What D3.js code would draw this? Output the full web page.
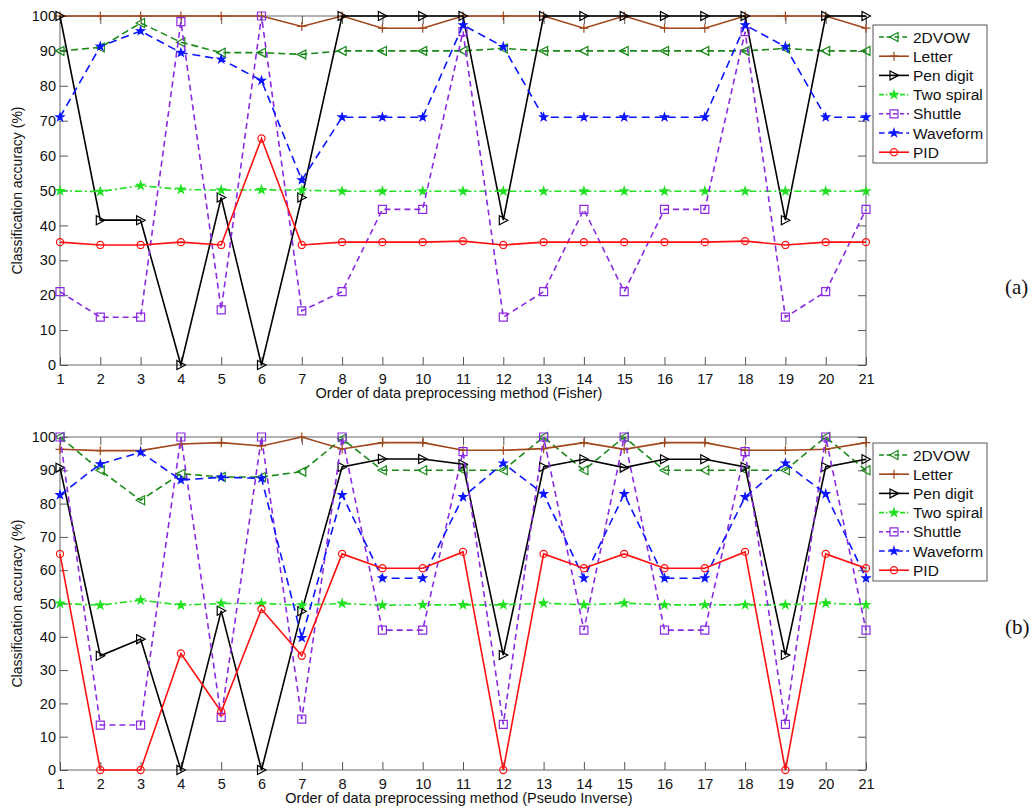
<!DOCTYPE html>
<html lang="en">
<head>
    <meta charset="UTF-8">
    <title>Classification accuracy</title>
    <script src="https://d3js.org/d3.v7.min.js"></script>
    <style>
        body { margin: 0; background: #fff; }
        svg { display: block; }
        text { font-family: "Liberation Sans", Arial, sans-serif; fill: #111; }
        .panel-tag { font-family: "Liberation Serif", "Times New Roman", serif; font-size: 21px; }
    </style>
</head>
<body>
    <svg id="chart" width="1034" height="808"></svg>
    <script>
        // x positions: order of the data preprocessing method
        const orders = d3.range(1, 22);
        const yTicks = d3.range(0, 101, 10);
        const seriesNames = ["2DVOW", "Letter", "Pen digit", "Two spiral", "Shuttle", "Waveform", "PID"];

        // (a) Fisher
        const fisher2DVOW     = [90, 91, 98, 92.5, 89.5, 89.5, 89, 90, 90, 90, 90, 90.7, 90, 90, 90, 90, 90, 90, 90.7, 90, 90];
        const fisherLetter    = [100, 100, 100, 100, 100, 100, 97, 100, 96.5, 96.5, 100, 100, 100, 96.5, 100, 96.5, 96.5, 100, 100, 100, 96.5];
        const fisherPenDigit  = [100, 41.5, 41.5, 0, 48, 0, 48, 100, 100, 100, 100, 41.5, 100, 100, 100, 100, 100, 100, 41.5, 100, 100];
        const fisherTwoSpiral = [49.9, 49.7, 51.4, 50.3, 50.1, 50.2, 50.1, 49.8, 49.8, 49.8, 49.8, 49.8, 49.8, 49.8, 49.8, 49.8, 49.8, 49.8, 49.8, 49.8, 49.8];
        const fisherShuttle   = [21, 13.7, 13.7, 98.4, 15.8, 100, 15.5, 21, 44.6, 44.6, 95.5, 13.7, 21, 44.6, 21, 44.6, 44.6, 95.5, 13.7, 21, 44.6];
        const fisherWaveform  = [71, 91.3, 95.7, 89.5, 87.6, 81.5, 53, 71, 71, 71, 97.4, 91.2, 71, 71, 71, 71, 71, 97.4, 91.2, 71, 71];
        const fisherPID       = [35.2, 34.4, 34.4, 35.2, 34.4, 64.9, 34.4, 35.2, 35.2, 35.2, 35.5, 34.4, 35.2, 35.2, 35.2, 35.2, 35.2, 35.5, 34.4, 35.2, 35.2];

        // (b) Pseudo Inverse
        const pinv2DVOW     = [100, 90, 81, 89, 88, 88, 89.6, 99.5, 90, 90, 90, 90, 100, 90, 100, 90, 90, 90, 90, 100, 90];
        const pinvLetter    = [96.3, 95.9, 95.9, 97.9, 98.3, 97.3, 100, 96.4, 98.3, 98.3, 96, 96, 96.5, 98.3, 96.3, 98.3, 98.3, 96, 96, 96.3, 98.3];
        const pinvPenDigit  = [90.8, 34.3, 39.3, 0, 47.8, 0, 47.7, 91, 93.4, 93.4, 91.8, 34.5, 91, 93.3, 90.8, 93.3, 93.3, 91, 34.5, 91, 93.3];
        const pinvTwoSpiral = [50, 49.5, 51, 49.5, 50, 50, 49.5, 50, 49.5, 49.6, 49.6, 49.6, 50.1, 49.6, 50.1, 49.6, 49.6, 49.6, 49.6, 50.1, 49.6];
        const pinvShuttle   = [100, 13.5, 13.5, 100, 15.8, 100, 15.3, 100, 42, 42, 95.6, 13.7, 100, 42, 100, 42, 42, 95.6, 13.7, 100, 42];
        const pinvWaveform  = [82.6, 91.9, 95.4, 87.1, 87.9, 87.6, 39.7, 82.6, 57.6, 57.6, 82, 92.1, 82.9, 57.6, 82.9, 57.6, 57.6, 82, 92.1, 82.9, 57.6];
        const pinvPID       = [64.9, 0, 0, 35, 17.5, 48.3, 34.3, 64.9, 60.6, 60.6, 65.5, 0, 64.9, 60.6, 64.9, 60.6, 60.6, 65.5, 0, 64.9, 60.6];

        // line + marker style per series (same order as seriesNames)
        const styles = [
            { color: "#1b8a1b", dash: "7,4",     marker: "triLeft",  fill: "none" },
            { color: "#a0471c", dash: null,      marker: "plus",     fill: "none" },
            { color: "#000000", dash: null,      marker: "triRight", fill: "none" },
            { color: "#22e022", dash: "7,3,2,3", marker: "star",     fill: "#22e022" },
            { color: "#8a2be2", dash: "6,4",     marker: "square",   fill: "none" },
            { color: "#0a14ff", dash: "8,5",     marker: "asterisk", fill: "#0a14ff" },
            { color: "#ff1010", dash: null,      marker: "circle",   fill: "none" }
        ];

        const svg = d3.select("#chart");

        function markerPath(type) {
            switch (type) {
                case "triLeft":  return "M-4.5,0L4,-4.5L4,4.5Z";
                case "triRight": return "M4.5,0L-4,-4.5L-4,4.5Z";
                case "plus":     return "M-4.5,0H4.5M0,-4.5V4.5";
                case "square":   return "M-4,-4H4V4H-4Z";
                case "circle":   return d3.symbol(d3.symbolCircle, 40)();
                case "star":     return d3.symbol(d3.symbolStar, 20)();
                case "asterisk": return d3.symbol(d3.symbolStar, 18)();
            }
        }

        function drawPanel(opts) {
            const { top, bottom, series, xTitle, tag, tagY, legendTop } = opts;
            const left = 60, right = 866;

            const x = d3.scaleLinear().domain([1, 21]).range([left, right]);
            const y = d3.scaleLinear().domain([0, 100]).range([bottom, top]);

            const g = svg.append("g");

            // box
            g.append("rect")
                .attr("x", left).attr("y", top)
                .attr("width", right - left).attr("height", bottom - top)
                .attr("fill", "none").attr("stroke", "#666").attr("stroke-width", 1);

            // ticks, inward on all four sides
            const bottomAxis = g.append("g").attr("transform", `translate(0,${bottom})`)
                .call(d3.axisBottom(x).tickValues(orders).tickFormat(d3.format("d")).tickSizeInner(-8).tickSizeOuter(0).tickPadding(6));
            const topAxis = g.append("g").attr("transform", `translate(0,${top})`)
                .call(d3.axisTop(x).tickValues(orders).tickFormat("").tickSizeInner(-8).tickSizeOuter(0));
            const leftAxis = g.append("g").attr("transform", `translate(${left},0)`)
                .call(d3.axisLeft(y).tickValues(yTicks).tickSizeInner(-8).tickSizeOuter(0).tickPadding(4));
            const rightAxis = g.append("g").attr("transform", `translate(${right},0)`)
                .call(d3.axisRight(y).tickValues(yTicks).tickFormat("").tickSizeInner(-8).tickSizeOuter(0));

            [bottomAxis, topAxis, leftAxis, rightAxis].forEach(a => {
                a.select(".domain").remove();
                a.selectAll("line").attr("stroke", "#555");
                a.selectAll("text").attr("font-size", 14.5).attr("fill", "#111")
                    .attr("font-family", "'Liberation Sans', Arial, sans-serif");
            });
            bottomAxis.selectAll("text").attr("dy", "0.9em");

            // series
            const line = d3.line().x((d, i) => x(orders[i])).y(d => y(d));
            series.forEach((vals, s) => {
                const st = styles[s];
                g.append("path")
                    .datum(vals)
                    .attr("fill", "none")
                    .attr("stroke", st.color)
                    .attr("stroke-width", 1.6)
                    .attr("stroke-dasharray", st.dash)
                    .attr("d", line);
                g.append("g").selectAll("path")
                    .data(vals)
                    .join("path")
                    .attr("transform", (d, i) => `translate(${x(orders[i])},${y(d)})`)
                    .attr("d", markerPath(st.marker))
                    .attr("fill", st.fill)
                    .attr("stroke", st.color)
                    .attr("stroke-width", 1.2);
            });

            // axis titles
            g.append("text")
                .attr("transform", `translate(22,${(top + bottom) / 2}) rotate(-90)`)
                .attr("text-anchor", "middle")
                .attr("font-size", 14)
                .text("Classification accuracy (%)");
            g.append("text")
                .attr("x", (left + right) / 2 - 4)
                .attr("y", bottom + 33)
                .attr("text-anchor", "middle")
                .attr("font-size", 14.5)
                .text(xTitle);

            // legend
            const lg = g.append("g").attr("transform", `translate(873,${legendTop})`);
            lg.append("rect")
                .attr("width", 114).attr("height", 138)
                .attr("fill", "#fff").attr("stroke", "#555").attr("stroke-width", 1);
            seriesNames.forEach((name, s) => {
                const st = styles[s];
                const ry = 12 + s * 19.2;
                lg.append("line")
                    .attr("x1", 6).attr("x2", 36).attr("y1", ry).attr("y2", ry)
                    .attr("stroke", st.color).attr("stroke-width", 1.6)
                    .attr("stroke-dasharray", st.dash ? st.dash.split(",").map(v => v * 0.7).join(",") : null);
                lg.append("path")
                    .attr("transform", `translate(21,${ry})`)
                    .attr("d", markerPath(st.marker))
                    .attr("fill", st.fill).attr("stroke", st.color).attr("stroke-width", 1.2);
                lg.append("text")
                    .attr("x", 40).attr("y", ry).attr("dy", "0.36em")
                    .attr("font-size", 15.5)
                    .text(name);
            });

            svg.append("text").attr("class", "panel-tag")
                .attr("x", 1005).attr("y", tagY)
                .text(tag);
        }

        drawPanel({
            top: 16, bottom: 365,
            series: [fisher2DVOW, fisherLetter, fisherPenDigit, fisherTwoSpiral, fisherShuttle, fisherWaveform, fisherPID],
            xTitle: "Order of data preprocessing method (Fisher)",
            tag: "(a)", tagY: 294, legendTop: 25
        });

        drawPanel({
            top: 437, bottom: 770,
            series: [pinv2DVOW, pinvLetter, pinvPenDigit, pinvTwoSpiral, pinvShuttle, pinvWaveform, pinvPID],
            xTitle: "Order of data preprocessing method (Pseudo Inverse)",
            tag: "(b)", tagY: 634, legendTop: 443
        });
    </script>
</body>
</html>
